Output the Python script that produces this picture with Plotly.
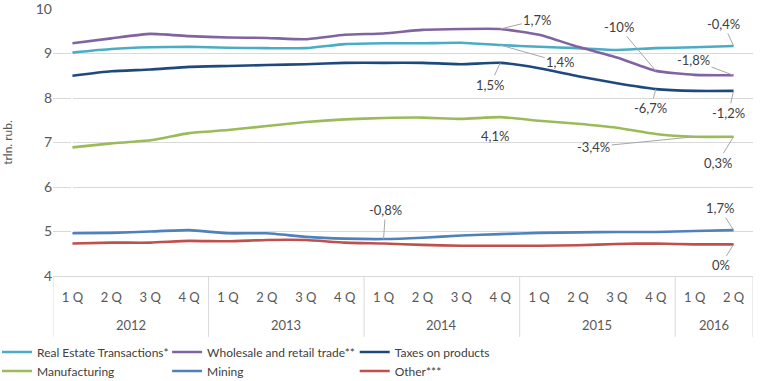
import plotly.graph_objects as go

years = ["2012"] * 4 + ["2013"] * 4 + ["2014"] * 4 + ["2015"] * 4 + ["2016"] * 2
quarters = ["1 Q", "2 Q", "3 Q", "4 Q"] * 4 + ["1 Q", "2 Q"]

real_estate = [9.02, 9.10, 9.14, 9.15, 9.13, 9.12, 9.12, 9.21, 9.23, 9.23, 9.24, 9.19, 9.15, 9.12, 9.08, 9.12, 9.14, 9.17]
wholesale = [9.23, 9.34, 9.44, 9.39, 9.36, 9.35, 9.32, 9.42, 9.45, 9.53, 9.55, 9.55, 9.42, 9.15, 8.91, 8.61, 8.52, 8.51]
taxes = [8.50, 8.60, 8.64, 8.70, 8.72, 8.74, 8.76, 8.79, 8.79, 8.79, 8.76, 8.79, 8.67, 8.49, 8.33, 8.20, 8.16, 8.16]
manufacturing = [6.89, 6.98, 7.05, 7.21, 7.28, 7.37, 7.46, 7.52, 7.55, 7.56, 7.53, 7.57, 7.49, 7.42, 7.33, 7.19, 7.13, 7.13]
mining = [4.96, 4.97, 5.00, 5.03, 4.96, 4.96, 4.88, 4.84, 4.83, 4.86, 4.91, 4.94, 4.97, 4.98, 4.99, 4.99, 5.01, 5.03]
other = [4.73, 4.75, 4.75, 4.79, 4.78, 4.81, 4.81, 4.75, 4.73, 4.70, 4.68, 4.68, 4.68, 4.69, 4.72, 4.73, 4.71, 4.71]

series_names = ["Real Estate Transactions*", "Wholesale and retail trade**", "Taxes on products",
                "Manufacturing", "Mining", "Other***"]
series_values = [real_estate, wholesale, taxes, manufacturing, mining, other]
series_colors = ["#4bacc6", "#8064a2", "#1f497d", "#9bbb59", "#4f81bd", "#c0504d"]

# (series values, index, label, ax, ay, show leader)
labels = [
    (wholesale, 11, "1,7%", 37, -9, True),
    (real_estate, 11, "1,4%", 60, 17, True),
    (taxes, 11, "1,5%", -10, 22, True),
    (manufacturing, 11, "4,1%", -5, 19, False),
    (wholesale, 15, "-10%", -37, -44, True),
    (real_estate, 17, "-0,4%", -10, -22, True),
    (wholesale, 17, "-1,8%", -40, -15, True),
    (taxes, 15, "-6,7%", -5, 19, True),
    (taxes, 17, "-1,2%", -5, 22, True),
    (manufacturing, 16, "-3,4%", -101, 10, True),
    (manufacturing, 17, "0,3%", -16, 26, True),
    (mining, 8, "-0,8%", 2, -29, True),
    (mining, 17, "1,7%", -14, -22, True),
    (other, 17, "0%", -13, 21, True),
]

FONT = "Lato, Open Sans, sans-serif"
GRID = "#d9d9d9"
idx = list(range(len(quarters)))

# legend grid: 3 columns x 2 rows
legend_cols = [-0.08, 0.163, 0.431]
legend_rows = [-0.2846, -0.3558]

fig = go.Figure()
legends = {}
for k, (name, vals, color) in enumerate(zip(series_names, series_values, series_colors)):
    lname = "legend" if k == 0 else f"legend{k + 1}"
    fig.add_trace(go.Scatter(
        x=idx, y=vals, name=name, mode="lines",
        line=dict(color=color, width=2.6, shape="spline", smoothing=0.5),
        legend=lname,
    ))
    legends[lname] = dict(orientation="v", x=legend_cols[k % 3], y=legend_rows[k // 3],
                          xanchor="left", yanchor="middle", itemwidth=30,
                          bgcolor="rgba(0,0,0,0)",
                          font=dict(family=FONT, size=12, color="#404040"))

annotations = []
for vals, i, text, ax, ay, leader in labels:
    a = dict(x=i, y=vals[i], xref="x", yref="y", text=text,
             font=dict(family=FONT, size=13, color="#404040"))
    if leader:
        a.update(showarrow=True, ax=ax, ay=ay, arrowhead=0, arrowwidth=1,
                 arrowcolor="#a6a6a6", standoff=0)
    else:
        a.update(showarrow=False, xshift=ax, yshift=-ay)
    annotations.append(a)

# year group labels and dividers
shapes = []
groups = []
for i, yr in enumerate(years):
    if not groups or groups[-1][0] != yr:
        groups.append([yr, i, i])
    else:
        groups[-1][2] = i
bounds = [groups[0][1] - 0.5] + [g[2] + 0.5 for g in groups]
for yr, s, e in groups:
    annotations.append(dict(x=(s + e) / 2, y=-0.183, xref="x", yref="paper", text=yr,
                            showarrow=False, yanchor="middle",
                            font=dict(family=FONT, size=13, color="#595959")))
for b in bounds:
    shapes.append(dict(type="line", xref="x", yref="paper", x0=b, x1=b, y0=0, y1=-0.228,
                       line=dict(color=GRID, width=1)))

fig.update_layout(
    width=763, height=381,
    margin=dict(l=53, r=10, t=9, b=105, autoexpand=False),
    paper_bgcolor="white", plot_bgcolor="white",
    font=dict(family=FONT, size=12, color="#595959"),
    annotations=annotations, shapes=shapes,
    showlegend=True,
    **legends,
)
fig.update_xaxes(
    range=[-0.5, len(quarters) - 0.5], tickvals=idx, ticktext=quarters,
    showgrid=False, showline=True, linecolor=GRID, ticks="", ticklabelstandoff=9,
    tickfont=dict(family=FONT, size=13, color="#595959"),
)
fig.update_yaxes(
    range=[4, 10], dtick=1, showgrid=True, gridcolor=GRID, zeroline=False,
    showline=False, ticks="", ticklabeloverflow="allow",
    tickfont=dict(family=FONT, size=14, color="#595959"),
    title=dict(text="trln. rub.", font=dict(family=FONT, size=12, color="#595959"), standoff=22),
)
fig.write_html("out.html", config={"displayModeBar": False},
               post_script="document.body.style.margin='0px';")
